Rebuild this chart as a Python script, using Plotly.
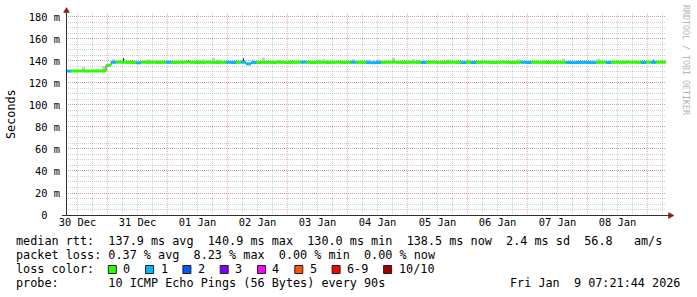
import plotly.graph_objects as go
from datetime import datetime, timedelta

# ---------------- data ----------------
start = datetime(2025, 12, 30, 7, 21, 44)
end = datetime(2026, 1, 9, 7, 21, 44)
BIN_HOURS = 2

median_ms = [
    130.8, 130.9, 130.9, 130.9, 130.8, 130.9, 130.9, 130.9, 136.0, 138.8,
    138.9, 138.8, 138.7, 138.6, 138.3, 138.8, 138.7, 138.8, 138.6, 138.7,
    138.8, 138.6, 138.7, 138.8, 138.9, 138.7, 138.6, 138.7, 138.8, 138.7,
    138.6, 138.7, 138.8, 138.6, 138.7, 138.9, 137.4, 138.5, 138.6, 138.7,
    138.7, 138.6, 138.8, 138.7, 138.6, 138.7, 138.8, 138.9, 138.7, 138.6,
    138.7, 138.8, 138.6, 138.7, 138.8, 138.6, 138.7, 138.8, 138.7, 138.6,
    138.5, 138.4, 138.6, 138.7, 138.8, 138.9, 138.7, 138.6, 138.7, 138.8,
    138.7, 138.6, 138.7, 138.8, 138.7, 138.6, 138.7, 138.8, 138.6, 138.5,
    138.7, 138.6, 138.7, 138.8, 138.7, 138.6, 138.7, 138.8, 138.7, 138.6,
    138.7, 138.8, 138.6, 138.7, 138.8, 138.7, 138.6, 138.7, 138.8, 138.7,
    138.6, 138.5, 138.6, 138.7, 138.6, 138.5, 138.7, 138.8, 138.6, 138.7,
    138.8, 138.7, 138.9, 138.8, 138.7, 138.6, 138.8, 138.7, 138.8, 138.9,
]

loss_level = [
    1, 0, 0, 0, 0, 0, 0, 0, 0, 1, 0, 0, 0, 0, 1, 0, 0, 0, 0, 0,
    1, 0, 0, 0, 0, 0, 0, 0, 0, 0, 0, 0, 1, 1, 0, 1, 1, 1, 0, 0,
    0, 0, 0, 0, 0, 0, 0, 1, 0, 0, 0, 0, 0, 0, 0, 0, 0, 1, 0, 0,
    1, 1, 1, 0, 0, 0, 0, 0, 0, 0, 0, 1, 0, 0, 0, 0, 0, 0, 0, 1,
    0, 1, 0, 0, 0, 0, 0, 0, 0, 0, 0, 1, 1, 0, 0, 0, 0, 0, 0, 0,
    1, 1, 1, 1, 1, 1, 0, 0, 1, 0, 0, 0, 0, 0, 0, 1, 0, 1, 0, 0,
]

# smoke extent above the median (ms)
smoke_ms = [
    0, 0, 0, 2.0, 0, 0, 0, 3.0, 0, 1.5, 0, 1.5, 0, 0, 0, 0, 1.5, 0, 1.0, 0,
    0, 0, 0, 0, 0, 0, 1.5, 1.5, 0, 2.5, 1.5, 0, 0, 0, 0, 0, 0, 1.5, 0, 3.0,
    0, 1.0, 1.0, 1.0, 0, 0, 0, 0, 0, 0, 1.5, 1.5, 1.0, 0, 0, 0, 0, 1.5, 0, 0,
    1.5, 1.0, 1.5, 0, 0, 2.5, 0, 0, 0, 1.5, 1.0, 1.5, 0, 1.0, 0, 0, 1.5, 0, 0, 0,
    1.5, 0, 0, 0, 0, 1.0, 0, 1.0, 0, 0, 1.5, 0, 0, 0, 0, 1.5, 0, 1.0, 0, 2.0,
    0, 0, 0, 0, 0, 0, 2.0, 0, 0, 1.0, 0, 1.0, 0, 0, 0, 0, 0, 1.5, 0, 0,
]

spike_bin = [11, 24, 35, 47, 55, 65, 117]
spike_top_ms = [142.5, 140.5, 142.5, 140.0, 140.0, 140.5, 140.5]

day_labels = ["30 Dec", "31 Dec", "01 Jan", "02 Jan", "03 Jan",
              "04 Jan", "05 Jan", "06 Jan", "07 Jan", "08 Jan"]
y_tick_vals = [0, 20, 40, 60, 80, 100, 120, 140, 160, 180]
y_tick_text = ["0  ", "20 m", "40 m", "60 m", "80 m",
               "100 m", "120 m", "140 m", "160 m", "180 m"]

loss_colors = {0: "#26ff00", 1: "#00b8ff", 2: "#0059ff", 3: "#7e00ff",
               4: "#ff00ff", 5: "#ff5500", 6: "#ff0000", 10: "#a00000"}
legend_names = ["0", "1", "2", "3", "4", "5", "6-9", "10/10"]
legend_keys = [0, 1, 2, 3, 4, 5, 6, 10]

stats_line = "median rtt:  137.9 ms avg  140.9 ms max  130.0 ms min  138.5 ms now  2.4 ms sd  56.8   am/s"
loss_line = "packet loss: 0.37 % avg  8.23 % max  0.00 % min  0.00 % now"
probe_line = "probe:       10 ICMP Echo Pings (56 Bytes) every 90s"
stamp_line = "Fri Jan  9 07:21:44 2026"
watermark = "RRDTOOL / TOBI OETIKER"

# ---------------- geometry helpers ----------------
W, H = 697, 297
L, R, T, B = 66, 31, 13, 82
PW, PH = W - L - R, H - T - B
MONO = "DejaVu Sans Mono"
FS = 11.8
CW = 7.1


def px(x):
    return (x - L) / PW


def py(y):
    return (H - B - y) / PH


def nb(s):
    return s.replace(" ", "\u00a0")


n = len(median_ms)
edges = [min(start + timedelta(hours=BIN_HOURS * i), end) for i in range(n + 1)]
centers = [edges[i] + (edges[i + 1] - edges[i]) / 2 for i in range(n)]
bin_ms = BIN_HOURS * 3600 * 1000

fig = go.Figure()

# smoke
sx, sy, sb = [], [], []
for i in range(n):
    if smoke_ms[i] > 0:
        sx.append(centers[i])
        sy.append(smoke_ms[i] + 1.3)
        sb.append(median_ms[i])
fig.add_trace(go.Bar(x=sx, y=sy, base=sb, width=bin_ms * 0.6,
                     marker=dict(color="#c6c6c6", line=dict(width=0)),
                     hoverinfo="skip"))

# dark outlier spikes
kx, ky = [], []
for b, top in zip(spike_bin, spike_top_ms):
    kx += [centers[b], centers[b], None]
    ky += [median_ms[b], top, None]
fig.add_trace(go.Scatter(x=kx, y=ky, mode="lines",
                         line=dict(color="#202020", width=1), hoverinfo="skip"))

# step connector
fig.add_trace(go.Scatter(x=edges, y=median_ms + [median_ms[-1]], mode="lines",
                         line=dict(color="#305030", width=1, shape="hv"),
                         hoverinfo="skip"))

# median coloured by loss
for key in sorted(set(loss_level)):
    xs, ys = [], []
    for i in range(n):
        if loss_level[i] == key:
            xs += [edges[i], edges[i + 1], None]
            ys += [median_ms[i], median_ms[i], None]
    fig.add_trace(go.Scatter(x=xs, y=ys, mode="lines",
                             line=dict(color=loss_colors[key], width=3),
                             hoverinfo="skip"))

# invisible trace on label axis
fig.add_trace(go.Scatter(x=[start, end], y=[None, None], xaxis="x2",
                         mode="lines", hoverinfo="skip"))

noon = [datetime(2025, 12, 30, 12) + timedelta(days=k) for k in range(len(day_labels))]

grid_minor = "rgba(150,150,150,0.45)"
grid_major = "rgba(210,100,100,0.5)"
dash = "1px,1px"

fig.update_layout(
    width=W, height=H, margin=dict(l=L, r=R, t=T, b=B),
    paper_bgcolor="white", plot_bgcolor="white", showlegend=False,
    barmode="overlay",
    font=dict(family=MONO, size=FS, color="#000"),
    xaxis=dict(type="date", range=[start, end], tickmode="linear",
               tick0="2025-12-31 00:00:00", dtick=86400000,
               showticklabels=False, ticks="", showgrid=True,
               gridcolor=grid_major, griddash=dash, gridwidth=1,
               zeroline=False, showline=False,
               minor=dict(tickmode="linear", tick0="2025-12-31 00:00:00",
                          dtick=6 * 3600 * 1000, showgrid=True,
                          gridcolor=grid_minor, griddash=dash, gridwidth=1)),
    xaxis2=dict(type="date", overlaying="x", anchor="y", side="bottom",
                range=[start, end], tickmode="array", tickvals=noon,
                ticktext=day_labels, showgrid=False, ticks="",
                zeroline=False, showline=False,
                tickfont=dict(family=MONO, size=10.4, color="#000")),
    yaxis=dict(range=[0, 183.6], tickmode="array", tickvals=y_tick_vals,
               ticktext=[nb(t) for t in y_tick_text], showgrid=True,
               gridcolor=grid_major, griddash=dash, gridwidth=1,
               zeroline=False, showline=False, ticks="outside", ticklen=3,
               tickcolor="rgba(0,0,0,0)",
               tickfont=dict(family=MONO, size=10.4, color="#000"),
               minor=dict(tickmode="linear", tick0=0, dtick=5, showgrid=True,
                          gridcolor=grid_minor, griddash=dash, gridwidth=1)),
)

shapes = []
axis_col = "#303030"
arrow_col = "#8b1a1a"
# y axis line + arrow
shapes.append(dict(type="line", xref="paper", yref="paper",
                   x0=px(L + 0.5), x1=px(L + 0.5), y0=py(216), y1=py(12),
                   line=dict(color=axis_col, width=1), layer="above"))
shapes.append(dict(type="path", xref="paper", yref="paper",
                   path=f"M {px(L+0.5)},{py(7.5)} L {px(L-2.5)},{py(12.5)} L {px(L+3.5)},{py(12.5)} Z",
                   fillcolor=arrow_col, line=dict(color=arrow_col, width=0.5), layer="above"))
# x axis line + arrow
shapes.append(dict(type="line", xref="paper", yref="paper",
                   x0=px(62), x1=px(669), y0=py(H - B + 0.5), y1=py(H - B + 0.5),
                   line=dict(color=axis_col, width=1), layer="above"))
shapes.append(dict(type="path", xref="paper", yref="paper",
                   path=f"M {px(674)},{py(H-B+0.5)} L {px(668.5)},{py(H-B-2.5)} L {px(668.5)},{py(H-B+3.5)} Z",
                   fillcolor=arrow_col, line=dict(color=arrow_col, width=0.5), layer="above"))

annotations = []


def ann(text, x, y, size=FS, xanchor="left", angle=0, color="#000"):
    annotations.append(dict(text=nb(text), xref="paper", yref="paper",
                            x=px(x), y=py(y), xanchor=xanchor, yanchor="middle",
                            showarrow=False, textangle=angle, borderpad=0,
                            font=dict(family=MONO, size=size, color=color)))


TX = 15
ann(stats_line, TX, 241)
ann(loss_line, TX, 255)
ann("loss color:", TX, 269)
ann(probe_line, TX, 283)
ann(stamp_line, 681, 283, xanchor="right")
ann("Seconds", 11, 114, xanchor="center", angle=-90)
ann(watermark, 686, 60, size=8.3, xanchor="center", angle=90, color="#b4b4b4")

# loss colour legend
bx = 108.3
for key, name in zip(legend_keys, legend_names):
    shapes.append(dict(type="rect", xref="paper", yref="paper",
                       x0=px(bx), x1=px(bx + 8), y0=py(273.5), y1=py(265.5),
                       fillcolor=loss_colors[key],
                       line=dict(color="#202020", width=1), layer="above"))
    lx = bx + 15
    ann(name, lx - 1, 269)
    bx = lx + len(name) * CW + 15.2

fig.update_layout(shapes=shapes, annotations=annotations)
fig.write_html("out.html")
